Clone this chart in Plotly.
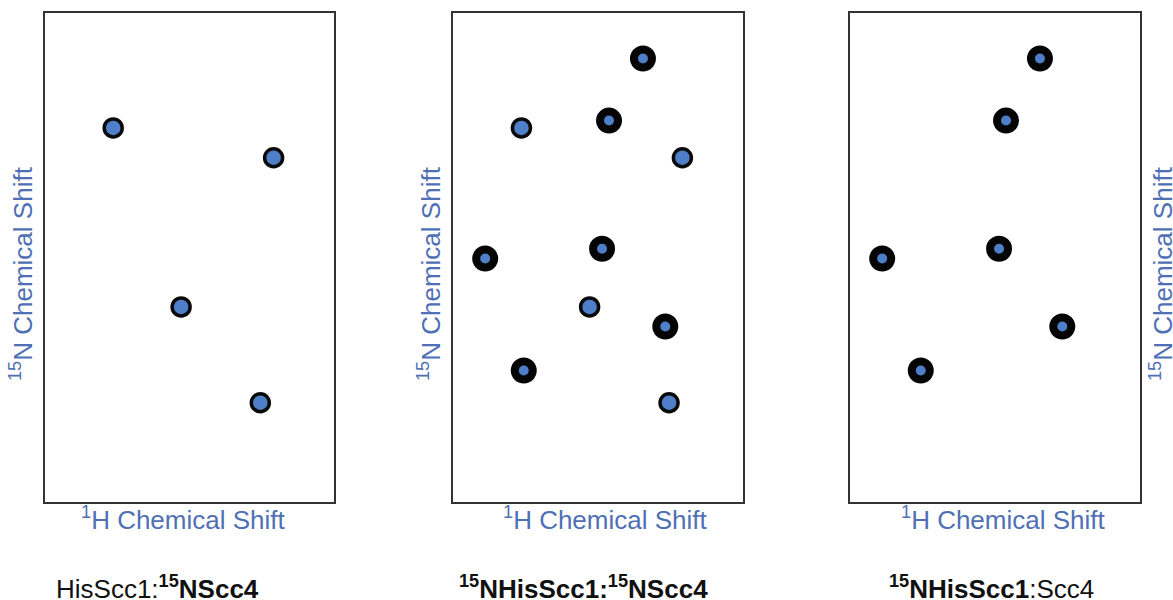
import plotly.graph_objects as go

# Peak positions on a 0-100 normalised shift scale (x: 1H, y: 15N)
scc4_x = [23.6, 79.1, 47.1, 74.5]
scc4_y = [76.5, 70.4, 39.9, 20.3]
scc1_x = [65.5, 53.8, 11.1, 51.4, 73.2, 24.4]
scc1_y = [90.7, 78.0, 49.8, 51.8, 35.9, 26.9]

panel_titles = [
    "HisScc1:<b><sup>15</sup>NScc4</b>",
    "<b><sup>15</sup>NHisScc1:<sup>15</sup>NScc4</b>",
    "<b><sup>15</sup>NHisScc1</b>:Scc4",
]
x_label = "<sup>1</sup>H Chemical Shift"
y_label = "<sup>15</sup>N Chemical Shift"

W, H = 1173, 600
FONT = "Liberation Sans, Arial, sans-serif"
LABEL_BLUE = "#4f70b5"
PEAK_BLUE = "#4f7fc8"

# which peak sets appear in each spectrum
panels = [
    {"scc4": True, "scc1": False},
    {"scc4": True, "scc1": True},
    {"scc4": False, "scc1": True},
]
x_domains = [(45, 334), (453, 743), (850, 1140)]
y_domain = [(600 - 502) / H, (600 - 13) / H]

fig = go.Figure()

for i, p in enumerate(panels):
    xa = "x" if i == 0 else f"x{i + 1}"
    ya = "y" if i == 0 else f"y{i + 1}"
    if p["scc4"]:
        fig.add_trace(go.Scatter(
            x=scc4_x, y=scc4_y, mode="markers", xaxis=xa, yaxis=ya,
            marker=dict(size=18, color=PEAK_BLUE,
                        line=dict(color="#0a0a0a", width=3.5)),
            hoverinfo="skip", showlegend=False))
    if p["scc1"]:
        fig.add_trace(go.Scatter(
            x=scc1_x, y=scc1_y, mode="markers", xaxis=xa, yaxis=ya,
            marker=dict(size=18, color=PEAK_BLUE,
                        line=dict(color="#050505", width=8)),
            hoverinfo="skip", showlegend=False))

axis_common = dict(range=[0, 100], showticklabels=False, ticks="",
                   showgrid=False, zeroline=False, showline=True,
                   mirror=True, linecolor="#333333", linewidth=1.5,
                   fixedrange=True)
layout_axes = {}
for i, (x0, x1) in enumerate(x_domains):
    suffix = "" if i == 0 else str(i + 1)
    layout_axes[f"xaxis{suffix}"] = dict(axis_common, domain=[x0 / W, x1 / W],
                                         anchor=f"y{suffix}")
    layout_axes[f"yaxis{suffix}"] = dict(axis_common, domain=y_domain,
                                         anchor=f"x{suffix}")

annotations = []
# axis labels below each spectrum
for cx in [183, 605, 1003]:
    annotations.append(dict(x=cx / W, y=1 - 518 / H, xref="paper", yref="paper",
                            text=x_label, showarrow=False,
                            font=dict(family=FONT, size=26, color=LABEL_BLUE),
                            xanchor="center", yanchor="middle"))
# vertical 15N labels
for cx in [21, 429, 1161]:
    annotations.append(dict(x=cx / W, y=1 - 274 / H, xref="paper", yref="paper",
                            text=y_label, showarrow=False, textangle=-90,
                            font=dict(family=FONT, size=26, color=LABEL_BLUE),
                            xanchor="center", yanchor="middle"))
# sample titles
for cx, t in zip([157, 583, 991], panel_titles):
    annotations.append(dict(x=cx / W, y=1 - 587 / H, xref="paper", yref="paper",
                            text=t, showarrow=False,
                            font=dict(family=FONT, size=26, color="#111111"),
                            xanchor="center", yanchor="middle"))

fig.update_layout(
    width=W, height=H,
    margin=dict(l=0, r=0, t=0, b=0),
    paper_bgcolor="white", plot_bgcolor="white",
    annotations=annotations,
    **layout_axes,
)

fig.write_html("out.html", config={"displayModeBar": False})
